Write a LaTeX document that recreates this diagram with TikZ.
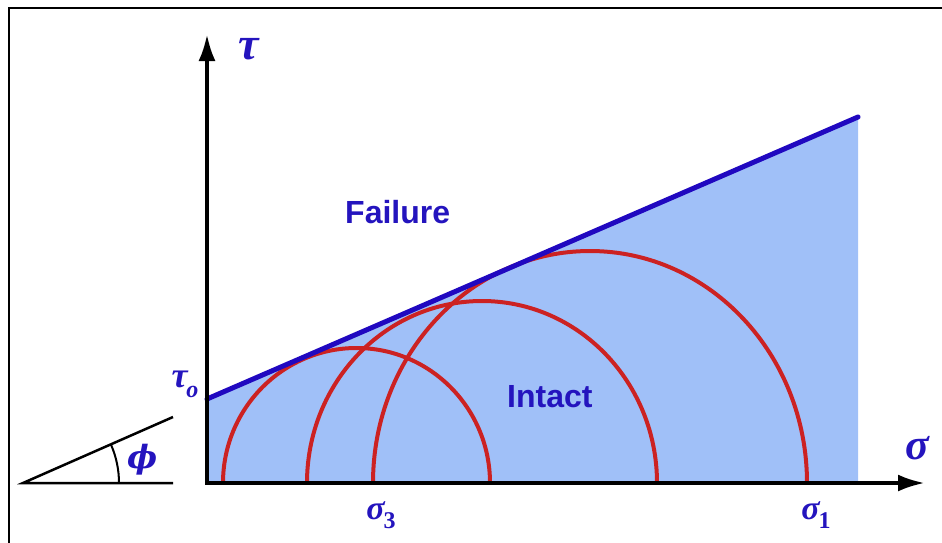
\documentclass[tikz,border=0pt]{standalone}
\usepackage{fontspec}
\setsansfont{Liberation Sans}
\newfontfamily\grk{Liberation Serif}
\newfontfamily\grkb{DejaVu Serif}
\usetikzlibrary{arrows.meta}
\definecolor{fillblue}{RGB}{160,192,248}
\definecolor{lineblue}{RGB}{32,8,192}
\definecolor{textblue}{RGB}{36,20,190}
\definecolor{circred}{RGB}{204,34,34}
\tikzset{
  axisline/.style={line width=4pt, -{Latex[length=27pt,width=17pt]}},
  mohr/.style={draw=circred, line width=4pt},
  envelope/.style={draw=lineblue, line width=5pt, line cap=round},
  mathlbl/.style={text=textblue, inner sep=0pt},
  region/.style={text=textblue, inner sep=0pt, font=\sffamily\bfseries\fontsize{32}{32}\selectfont},
  anglebox/.style={line width=2.5pt}
}
\begin{document}
\begin{tikzpicture}[x=1pt,y=-1pt]
\useasboundingbox (0,0) rectangle (942,542);
% frame
\draw[line width=2.5pt] (9,545) -- (9,8) -- (945,8);
% named points
\coordinate (O) at (207,483);
\coordinate (Ytip) at (207,34);
\coordinate (Xtip) at (925,483);
\coordinate (T0) at (207,399);
\coordinate (Tend) at (858,117);
\coordinate (Bend) at (858,483);
% shaded region
\fill[fillblue] (O) -- (T0) -- (Tend) -- (Bend) -- cycle;
% Mohr circles
\coordinate (C1) at (356.5,483);
\coordinate (C2) at (482,483);
\coordinate (C3) at (590,483);
\draw[mohr] (C1) ++(133.5,0) arc[start angle=0,end angle=180,x radius=133.5pt,y radius=135pt];
\draw[mohr] (C2) ++(175,0) arc[start angle=0,end angle=180,x radius=175pt,y radius=182pt];
\draw[mohr] (C3) ++(217,0) arc[start angle=0,end angle=180,x radius=217pt,y radius=232pt];
% failure envelope
\draw[envelope] (T0) -- (Tend);
% axes
\draw[axisline] (O) -- (Ytip);
\draw[axisline] ([xshift=-2pt]O) -- (Xtip);
% angle sketch
\coordinate (A0) at (23,483);
\coordinate (A1) at (173,483);
\coordinate (A2) at (173,417);
\draw[anglebox] (A1) -- (A0) -- (A2);
\draw[line width=2pt] (A0) ++(96,0) arc[start angle=0,end angle=23.7,radius=96pt];
% labels
\node[mathlbl, font=\grk\bfseries\itshape\fontsize{46}{46}\selectfont] (tau) at (249,49) {τ};
\node[mathlbl, font=\grk\bfseries\itshape\fontsize{36}{36}\selectfont] (tau0) at (185,384) {τ\kern-1pt\raisebox{-0.28em}{\fontsize{24}{24}\selectfont o}};
\node[mathlbl, font=\grkb\bfseries\itshape\fontsize{32}{32}\selectfont] (phi) at (143,460) {ϕ};
\node[mathlbl, font=\grk\bfseries\itshape\fontsize{44}{44}\selectfont] (sig) at (917,448) {σ};
\node[mathlbl, font=\grk\bfseries\fontsize{34}{34}\selectfont] (sig3) at (381,515) {\textit{σ}\kern-2pt\raisebox{-0.25em}{\fontsize{24}{24}\selectfont 3}};
\node[mathlbl, font=\grk\bfseries\fontsize{34}{34}\selectfont] (sig1) at (816,515) {\textit{σ}\kern-2pt\raisebox{-0.25em}{\fontsize{24}{24}\selectfont 1}};
\node[region, anchor=base west] (fail) at (345,223) {Failure};
\node[region, anchor=base west] (intact) at (507,407) {Intact};
\end{tikzpicture}
\end{document}
